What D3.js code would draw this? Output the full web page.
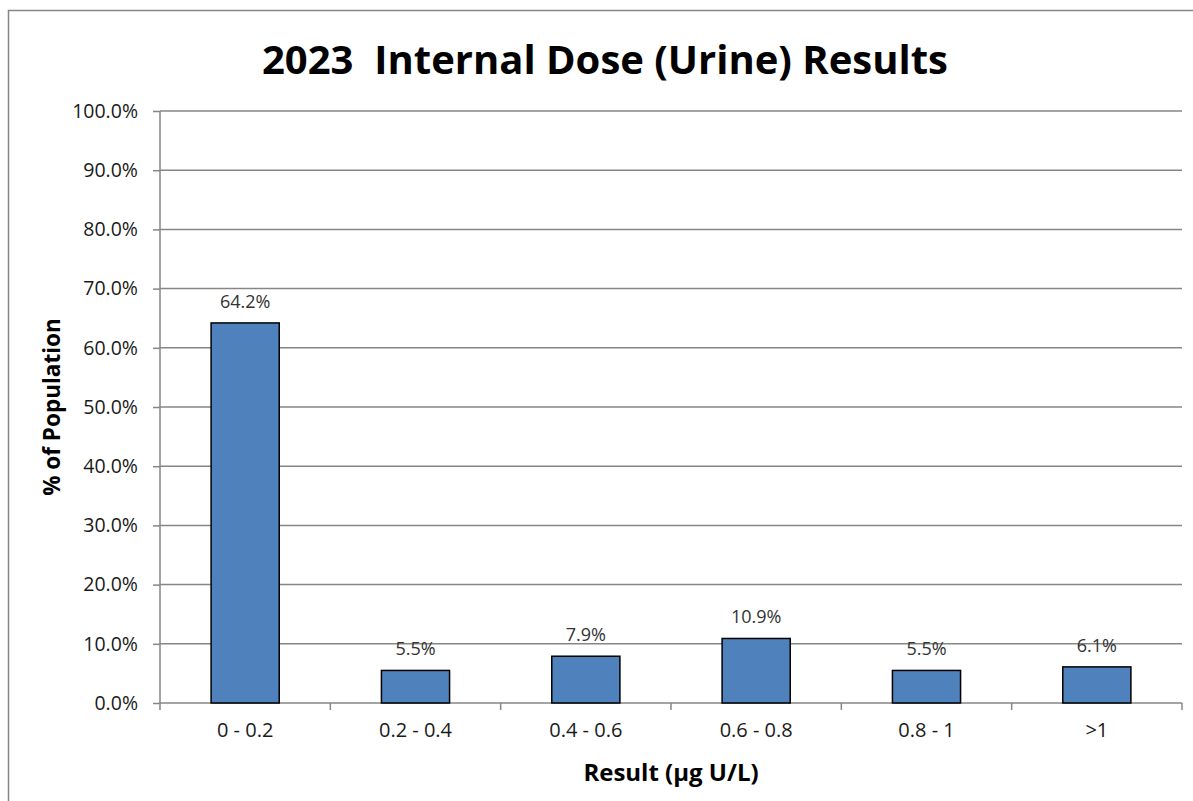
<!DOCTYPE html>
<html>
<head>
<meta charset="utf-8">
<script src="https://cdn.jsdelivr.net/npm/d3@7"></script>
<style>
  body { margin: 0; background: #fff; }
  text { font-family: "Open Sans", "Noto Sans", sans-serif; }
</style>
</head>
<body>
<div id="chart"></div>
<script>
const categories = ["0 - 0.2", "0.2 - 0.4", "0.4 - 0.6", "0.6 - 0.8", "0.8 - 1", ">1"];
const values = [64.2, 5.5, 7.9, 10.9, 5.5, 6.1];
const yTicks = [0, 10, 20, 30, 40, 50, 60, 70, 80, 90, 100];

function init() {
    var w = 1193;
    var h = 801;
    var left = 160, right = 1182, top = 111, bottom = 703;

    var svg = d3.select("#chart").append("svg")
        .attr("width", w)
        .attr("height", h);

    // chart border (only left and top visible in the picture)
    svg.append("rect")
        .attr("x", 8.5).attr("y", 10.5)
        .attr("width", 1200).attr("height", 820)
        .attr("fill", "none")
        .attr("stroke", "#868686")
        .attr("stroke-width", 1.5);

    var x = d3.scaleBand().domain(categories).range([left, right]);
    var y = d3.scaleLinear().domain([0, 100]).range([bottom, top]);

    // gridlines
    svg.append("g").selectAll("line")
        .data(yTicks.filter(d => d > 0))
        .join("line")
        .attr("x1", left).attr("x2", right)
        .attr("y1", d => y(d)).attr("y2", d => y(d))
        .attr("stroke", "#868686")
        .attr("stroke-width", 1.5);

    // y axis
    var yAxis = svg.append("g")
        .attr("transform", `translate(${left},0)`)
        .call(d3.axisLeft(y).tickValues(yTicks).tickSize(7).tickPadding(15).tickFormat(d => d.toFixed(1) + "%"));
    yAxis.selectAll("path, line").attr("stroke", "#868686").attr("stroke-width", 1.5);
    yAxis.select(".domain").attr("d", `M0,${top}V${bottom}`);
    yAxis.attr("font-size", null).attr("font-family", null);
    yAxis.selectAll("text").style("font-size", "19.5px").attr("fill", "#1a1a1a");

    // x axis
    var xAxis = svg.append("g")
        .attr("transform", `translate(0,${bottom})`)
        .call(d3.axisBottom(x).tickSize(0).tickPadding(20));
    xAxis.select(".domain").attr("stroke", "#868686").attr("stroke-width", 1.5).attr("d", `M${left},0H${right}`);
    xAxis.attr("font-size", null).attr("font-family", null);
    xAxis.selectAll("text").style("font-size", "20px").attr("fill", "#1a1a1a");
    // category separator ticks
    var edges = categories.map(c => x(c)).concat([right]);
    xAxis.append("g").selectAll("line")
        .data(edges)
        .join("line")
        .attr("x1", d => d).attr("x2", d => d)
        .attr("y1", 0).attr("y2", 7)
        .attr("stroke", "#868686")
        .attr("stroke-width", 1.5);

    // bars
    var barW = x.bandwidth() * 0.4;
    svg.append("g").selectAll("rect")
        .data(values)
        .join("rect")
        .attr("x", (d, i) => x(categories[i]) + (x.bandwidth() - barW) / 2)
        .attr("y", d => y(d))
        .attr("width", barW)
        .attr("height", d => bottom - y(d))
        .attr("fill", "#4F81BD")
        .attr("stroke", "#000")
        .attr("stroke-width", 1.5);

    // data labels
    svg.append("g").selectAll("text")
        .data(values)
        .join("text")
        .attr("x", (d, i) => x(categories[i]) + x.bandwidth() / 2)
        .attr("y", d => y(d) - 15)
        .attr("text-anchor", "middle")
        .style("font-size", "18px")
        .attr("fill", "#333")
        .text(d => d.toFixed(1) + "%");

    // title
    svg.append("text")
        .attr("x", 605).attr("y", 74)
        .attr("text-anchor", "middle")
        .style("font-size", "40px")
        .style("white-space", "pre")
        .attr("font-weight", "bold")
        .attr("fill", "#000")
        .text("2023  Internal Dose (Urine) Results");

    // axis titles
    svg.append("text")
        .attr("transform", "rotate(-90)")
        .attr("x", -(top + bottom) / 2).attr("y", 60)
        .attr("text-anchor", "middle")
        .style("font-size", "22.5px")
        .attr("font-weight", "bold")
        .text("% of Population");

    svg.append("text")
        .attr("x", (left + right) / 2).attr("y", 781)
        .attr("text-anchor", "middle")
        .style("font-size", "24px")
        .attr("font-weight", "bold")
        .text("Result (µg U/L)");
}

window.onload = init;
</script>
</body>
</html>
